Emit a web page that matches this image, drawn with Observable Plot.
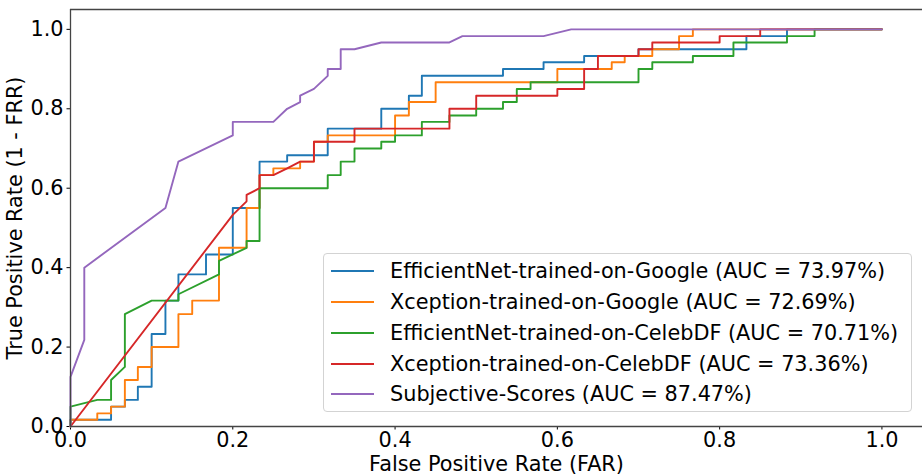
<!DOCTYPE html>
<html>
<head>
<meta charset="utf-8">
<script src="https://cdn.jsdelivr.net/npm/d3@7"></script>
<script src="https://cdn.jsdelivr.net/npm/@observablehq/plot@0.6"></script>
<style>
  html, body { margin: 0; padding: 0; background: #fff; }
  #wrap { position: relative; width: 922px; height: 474px; overflow: hidden; font-family: "DejaVu Sans", sans-serif; }
  #legend { position: absolute; left: 322.5px; top: 253px; width: 589px; height: 159px;
    border: 1px solid #d3d3d3; border-radius: 4px; background: rgba(255,255,255,0.8);
    box-sizing: border-box; padding-top: 2px; font-size: 20.8px; color: #000; }
  .row { display: flex; align-items: center; height: 30.75px; white-space: nowrap; }
  .sw { display: inline-block; width: 43px; height: 2px; margin-left: 7px; margin-right: 16.5px; }
</style>
</head>
<body>
<div id="wrap"><div id="chart"></div><div id="legend"></div></div>
<script>
// Series names, colors and AUC values
const seriesNames = [
  "EfficientNet-trained-on-Google",
  "Xception-trained-on-Google",
  "EfficientNet-trained-on-CelebDF",
  "Xception-trained-on-CelebDF",
  "Subjective-Scores"
];
const seriesAUC = ["73.97%", "72.69%", "70.71%", "73.36%", "87.47%"];
const seriesColors = ["#1f77b4", "#ff7f0e", "#2ca02c", "#d62728", "#9467bd"];

// ROC points (false positive rate, true positive rate)
const effGoogleFPR = [0,0,0.05,0.05,0.067,0.067,0.083,0.083,0.1,0.1,0.117,0.117,0.133,0.133,0.167,0.167,0.2,0.2,0.233,0.233,0.267,0.267,0.317,0.317,0.383,0.383,0.417,0.417,0.433,0.433,0.533,0.533,0.583,0.583,0.633,0.633,0.7,0.7,0.833,0.833,0.883,0.883,1];
const effGoogleTPR = [0,0.017,0.017,0.05,0.05,0.067,0.067,0.1,0.1,0.233,0.233,0.317,0.317,0.383,0.383,0.433,0.433,0.55,0.55,0.667,0.667,0.683,0.683,0.75,0.75,0.8,0.8,0.833,0.833,0.883,0.883,0.9,0.9,0.917,0.917,0.933,0.933,0.95,0.95,0.983,0.983,1,1];

const xcpGoogleFPR = [0,0,0.033,0.033,0.05,0.05,0.067,0.067,0.083,0.083,0.1,0.1,0.133,0.133,0.15,0.15,0.183,0.183,0.217,0.217,0.233,0.233,0.25,0.25,0.283,0.283,0.3,0.3,0.317,0.317,0.4,0.4,0.417,0.417,0.45,0.45,0.6,0.6,0.667,0.667,0.683,0.683,0.717,0.717,0.75,0.75,0.767,0.767,1];
const xcpGoogleTPR = [0,0.017,0.017,0.033,0.033,0.05,0.05,0.117,0.117,0.15,0.15,0.2,0.2,0.283,0.283,0.317,0.317,0.45,0.45,0.55,0.55,0.633,0.633,0.65,0.65,0.667,0.667,0.717,0.717,0.733,0.733,0.783,0.783,0.817,0.817,0.867,0.867,0.9,0.9,0.917,0.917,0.933,0.933,0.95,0.95,0.983,0.983,1,1];

const effCelebFPR = [0,0,0.033,0.05,0.05,0.067,0.067,0.1,0.133,0.133,0.183,0.183,0.217,0.217,0.233,0.233,0.317,0.317,0.333,0.333,0.35,0.35,0.383,0.383,0.4,0.4,0.433,0.433,0.467,0.467,0.5,0.5,0.533,0.533,0.55,0.55,0.567,0.567,0.7,0.7,0.717,0.717,0.767,0.767,0.817,0.817,0.883,0.883,0.917,0.917,1];
const effCelebTPR = [0,0.05,0.067,0.067,0.117,0.15,0.283,0.317,0.317,0.333,0.383,0.417,0.45,0.467,0.467,0.6,0.6,0.633,0.633,0.667,0.667,0.7,0.7,0.717,0.717,0.733,0.733,0.767,0.767,0.783,0.783,0.8,0.8,0.817,0.817,0.85,0.85,0.867,0.867,0.9,0.9,0.917,0.917,0.933,0.933,0.967,0.967,0.983,0.983,1,1];

const xcpCelebFPR = [0,0.2,0.217,0.217,0.233,0.233,0.25,0.267,0.283,0.3,0.3,0.35,0.35,0.467,0.467,0.5,0.5,0.6,0.6,0.633,0.633,0.65,0.65,0.7,0.7,0.717,0.717,0.8,0.8,0.85,0.85,1];
const xcpCelebTPR = [0,0.533,0.567,0.583,0.6,0.633,0.633,0.65,0.667,0.667,0.717,0.717,0.75,0.75,0.8,0.8,0.833,0.833,0.85,0.85,0.9,0.9,0.933,0.933,0.95,0.95,0.967,0.967,0.983,0.983,1,1];

const subjFPR = [0,0,0.017,0.017,0.117,0.133,0.2,0.2,0.25,0.267,0.283,0.283,0.3,0.317,0.317,0.333,0.333,0.35,0.383,0.467,0.483,0.583,0.617,1];
const subjTPR = [0,0.125,0.218,0.4,0.55,0.667,0.733,0.767,0.767,0.8,0.817,0.833,0.85,0.883,0.9,0.9,0.95,0.95,0.967,0.967,0.983,0.983,1,1];

// Axis ticks
const xTicks = [0, 0.2, 0.4, 0.6, 0.8, 1.0];
const yTicks = [0, 0.2, 0.4, 0.6, 0.8, 1.0];
const xLabel = "False Positive Rate (FAR)";
const yLabel = "True Positive Rate (1 - FRR)";

const fprs = [effGoogleFPR, xcpGoogleFPR, effCelebFPR, xcpCelebFPR, subjFPR];
const tprs = [effGoogleTPR, xcpGoogleTPR, effCelebTPR, xcpCelebTPR, subjTPR];

const rows = [];
seriesNames.forEach((name, i) => {
  fprs[i].forEach((f, j) => rows.push({series: name, order: i, fpr: f, tpr: tprs[i][j]}));
});

const lineMarks = seriesNames.map((name, i) =>
  Plot.line(rows.filter(d => d.order === i), {x: "fpr", y: "tpr", stroke: seriesColors[i], strokeWidth: 1.9})
);

const chart = Plot.plot({
  width: 922,
  height: 474,
  marginLeft: 70,
  marginRight: 0,
  marginTop: 9,
  marginBottom: 48,
  style: {fontFamily: "'DejaVu Sans', sans-serif", fontSize: "20.8px", color: "#000", background: "#fff", overflow: "visible"},
  x: {domain: [0, 1.05], ticks: xTicks, tickFormat: d3.format(".1f"), tickSize: 3.5, tickPadding: 2.5, label: null},
  y: {domain: [0, 1.05], ticks: yTicks, tickFormat: d3.format(".1f"), tickSize: 3.5, tickPadding: 3.5, label: null},
  marks: [
    ...lineMarks,
    Plot.ruleY([0, 1.05], {stroke: "#444", strokeWidth: 1.3}),
    Plot.ruleX([0], {stroke: "#444", strokeWidth: 1.3}),
    Plot.text([xLabel], {frameAnchor: "bottom", dy: 38, lineAnchor: "middle", textAnchor: "middle", fill: "#000"}),
    Plot.text([yLabel], {frameAnchor: "left", dx: -55, rotate: -90, lineAnchor: "middle", textAnchor: "middle", fill: "#000"})
  ]
});
document.getElementById("chart").appendChild(chart);

const legend = document.getElementById("legend");
seriesNames.forEach((name, i) => {
  const row = document.createElement("div");
  row.className = "row";
  const sw = document.createElement("span");
  sw.className = "sw";
  sw.style.background = seriesColors[i];
  const txt = document.createElement("span");
  txt.textContent = `${name} (AUC = ${seriesAUC[i]})`;
  row.appendChild(sw);
  row.appendChild(txt);
  legend.appendChild(row);
});
</script>
</body>
</html>
